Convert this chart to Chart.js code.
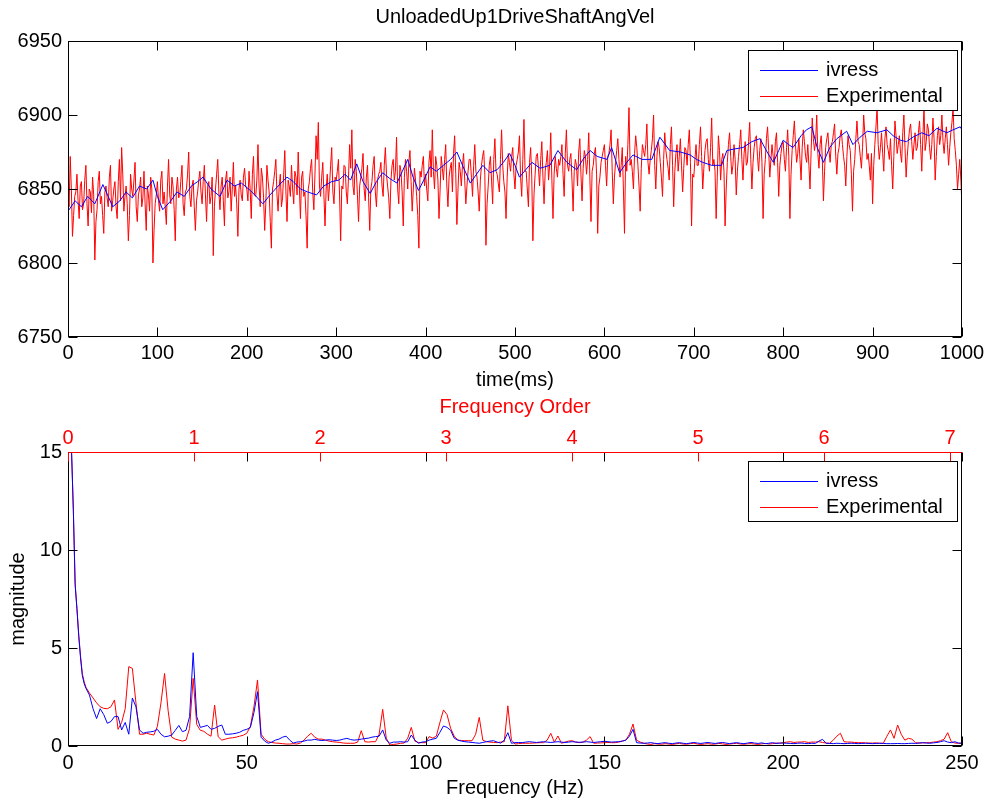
<!DOCTYPE html>
<html><head><meta charset="utf-8">
<script src="https://cdn.jsdelivr.net/npm/chart.js@4"></script>
<style>
html,body{margin:0;padding:0;background:#fff;}
#wrap{position:relative;width:990px;height:805px;background:#fff;overflow:hidden;}
canvas{position:absolute;left:0;}
#c1{top:0;}
#c2{top:395px;}
</style></head><body>
<div id="wrap"><canvas id="c1" width="990" height="395"></canvas><canvas id="c2" width="990" height="410"></canvas></div>
<script>
// ---------- DATA ----------
const chartTitle = 'UnloadedUp1DriveShaftAngVel';
const seriesNames = ['ivress', 'Experimental'];

// Top plot: ivress (time ms, value)
const ivressTimeMs = [0,8,15,22,30,39,45,50,58,65,72,80,88,95,100,106,115,122,130,138,145,151,160,170,178,186,194,204,212,218,226,235,245,252,260,268,278,286,295,303,310,316,323,330,338,345,352,360,368,374,380,386,392,398,405,412,420,428,435,442,450,457,464,472,480,487,494,500,505,512,519,528,539,548,558,569,576,584,592,603,608,617,625,632,642,653,662,673,685,696,703,710,720,731,737,745,755,765,774,782,789,795,800,806,811,820,826,832,838,845,852,860,871,878,886,894,905,916,923,931,938,945,955,963,972,983,990,998,1000];
const ivressAngVel = [6835,6842,6838,6845,6840,6853,6845,6838,6842,6848,6844,6852,6850,6856,6845,6836,6842,6848,6845,6852,6855,6858,6850,6845,6856,6852,6854,6849,6844,6840,6846,6852,6858,6855,6850,6848,6846,6852,6855,6856,6860,6856,6867,6855,6847,6855,6861,6857,6854,6862,6870,6858,6849,6856,6865,6862,6866,6870,6875,6865,6854,6860,6866,6861,6863,6868,6874,6866,6858,6863,6868,6864,6866,6876,6868,6863,6870,6876,6872,6870,6878,6861,6868,6873,6870,6870,6885,6876,6875,6873,6870,6868,6866,6866,6876,6877,6878,6882,6884,6875,6868,6876,6883,6880,6878,6886,6890,6892,6878,6868,6878,6884,6889,6880,6885,6889,6888,6890,6886,6883,6882,6885,6888,6886,6891,6888,6890,6892,6890];

// Top plot: Experimental, evenly sampled over 0..1000 ms (1.25 ms)
const experimentalAngVel = [
6850,6838,6872,6850,6818,6832,6845,6848,6860,6842,6830,6852,6855,6836,6840,6856,6866,6840,6825,6850,6848,6834,6858,6846,6802,6828,6836,6855,6862,6840,6845,6832,6820,6848,6852,6844,6838,6858,6866,6835,
6842,6850,6855,6838,6830,6855,6870,6842,6878,6860,6835,6845,6852,6840,6815,6832,6860,6850,6845,6856,6868,6838,6828,6846,6850,6858,6838,6844,6862,6840,6822,6852,6846,6835,6858,6850,6800,6822,6840,6846,
6855,6842,6835,6856,6862,6840,6848,6838,6826,6852,6870,6846,6840,6858,6852,6836,6815,6850,6858,6844,6845,6856,6866,6840,6832,6848,6850,6860,6875,6845,6838,6852,6856,6838,6822,6842,6848,6856,6862,6848,
6840,6855,6866,6846,6828,6852,6855,6840,6845,6858,6805,6838,6850,6860,6870,6848,6836,6852,6858,6842,6825,6856,6862,6844,6848,6858,6835,6850,6868,6845,6852,6840,6818,6850,6856,6846,6842,6858,6864,6852,
6850,6842,6862,6850,6830,6860,6872,6846,6845,6856,6880,6852,6838,6864,6858,6844,6822,6840,6866,6856,6848,6828,6810,6850,6855,6862,6870,6846,6835,6852,6860,6838,6844,6860,6876,6848,6828,6856,6852,6845,
6866,6850,6840,6862,6858,6846,6875,6852,6830,6858,6862,6845,6848,6832,6810,6850,6855,6864,6870,6848,6836,6860,6886,6870,6895,6852,6845,6858,6868,6846,6825,6850,6860,6842,6852,6866,6878,6848,6840,6858,
6856,6862,6870,6846,6815,6852,6850,6866,6865,6848,6840,6858,6880,6864,6890,6852,6846,6870,6862,6846,6828,6852,6858,6864,6874,6850,6842,6858,6866,6844,6822,6850,6855,6866,6872,6848,6838,6856,6860,6862,
6868,6852,6845,6866,6878,6860,6852,6844,6830,6856,6866,6870,6856,6862,6885,6850,6840,6866,6862,6848,6825,6858,6870,6862,6850,6868,6876,6855,6835,6850,6864,6856,6845,6832,6810,6862,6858,6866,6872,6852,
6860,6850,6842,6868,6876,6858,6890,6862,6850,6872,6866,6856,6830,6850,6872,6864,6856,6870,6880,6852,6838,6858,6864,6868,6848,6874,6886,6860,6826,6850,6868,6862,6852,6866,6874,6856,6840,6852,6862,6870,
6870,6858,6845,6866,6880,6862,6858,6848,6835,6856,6866,6872,6876,6860,6812,6840,6852,6866,6872,6856,6840,6870,6884,6862,6860,6854,6848,6870,6890,6866,6855,6848,6830,6858,6874,6868,6862,6872,6878,6860,
6850,6866,6870,6875,6886,6858,6845,6870,6897,6862,6862,6850,6838,6868,6878,6858,6815,6846,6860,6872,6874,6864,6852,6870,6882,6858,6840,6862,6868,6876,6856,6866,6888,6856,6830,6860,6872,6864,6858,6870,
6866,6872,6880,6860,6845,6874,6890,6866,6862,6870,6874,6856,6835,6862,6870,6866,6852,6875,6884,6860,6842,6864,6876,6872,6860,6870,6888,6858,6828,6862,6866,6874,6878,6860,6820,6852,6858,6868,6872,6876,
6880,6866,6852,6872,6874,6880,6890,6862,6840,6858,6868,6876,6884,6870,6858,6866,6878,6850,6820,6872,6862,6880,6905,6866,6870,6862,6850,6874,6886,6878,6866,6852,6835,6864,6880,6876,6872,6880,6894,6868,
6860,6870,6876,6884,6900,6866,6850,6872,6882,6878,6868,6858,6845,6870,6888,6876,6870,6864,6856,6880,6892,6866,6838,6862,6874,6880,6862,6872,6884,6866,6848,6864,6878,6876,6866,6880,6890,6868,6825,6860,
6858,6870,6880,6866,6866,6880,6892,6872,6850,6864,6876,6882,6884,6870,6862,6878,6898,6866,6870,6862,6830,6858,6886,6876,6856,6870,6874,6862,6825,6850,6868,6880,6888,6872,6860,6866,6880,6870,6846,6862,
6872,6880,6890,6870,6856,6874,6882,6866,6868,6882,6895,6870,6850,6868,6878,6884,6886,6872,6862,6876,6884,6868,6830,6860,6870,6884,6892,6876,6858,6870,6880,6872,6866,6882,6888,6868,6845,6866,6874,6880,
6882,6870,6862,6878,6890,6872,6830,6860,6876,6886,6896,6880,6868,6874,6884,6870,6856,6878,6890,6882,6872,6868,6880,6866,6850,6876,6898,6884,6876,6882,6900,6874,6864,6880,6886,6870,6842,6862,6878,6884,
6888,6876,6868,6880,6882,6888,6894,6872,6860,6874,6878,6886,6890,6880,6872,6866,6852,6872,6886,6880,6876,6860,6835,6862,6870,6884,6896,6882,6880,6872,6864,6878,6900,6888,6884,6870,6874,6866,6856,6874,
6840,6866,6880,6892,6905,6880,6870,6878,6888,6874,6862,6884,6892,6880,6876,6870,6884,6866,6850,6872,6896,6886,6874,6880,6886,6874,6868,6888,6900,6878,6858,6872,6882,6890,6894,6882,6870,6880,6888,6876,
6878,6888,6896,6880,6862,6886,6905,6876,6882,6894,6890,6878,6870,6880,6898,6884,6856,6872,6886,6892,6880,6886,6900,6882,6874,6884,6892,6880,6866,6878,6888,6895,6905,6884,6876,6866,6850,6860,6870,6856,
6838];
const timeRangeMs = [0, 1000];

// Bottom plot: spectrum
const freqStartHz = [1,1.5,2,2.5,3,3.5,4,4.5,5];
const freqHz = freqStartHz.slice();
for (let f = 6; f <= 250; f++) freqHz.push(f);

const ivressMag = [
15.0,12.0,8.2,7.0,5.6,4.5,3.6,3.2,2.95,
2.6,1.9,1.4,1.9,1.6,
1.16,1.25,1.5,1.5,0.82,1.2,0.6,2.45,2.0,0.82,
0.65,0.7,0.72,0.75,0.85,0.6,0.47,0.5,0.56,0.8,
1.05,0.73,0.8,1.5,4.76,1.5,0.95,1.0,1.05,0.85,
0.9,1.0,1.07,0.6,0.6,0.62,0.65,0.7,0.8,0.85,
0.95,1.7,2.77,0.45,0.25,0.14,0.2,0.3,0.35,0.45,
0.5,0.3,0.15,0.2,0.22,0.25,0.3,0.3,0.34,0.3,
0.28,0.3,0.32,0.3,0.28,0.3,0.35,0.39,0.33,0.3,
0.32,0.35,0.38,0.4,0.45,0.48,0.5,0.82,0.3,0.14,
0.2,0.2,0.22,0.2,0.22,0.56,0.3,0.14,0.2,0.22,
0.3,0.35,0.39,0.7,1.02,0.95,0.8,0.4,0.3,0.25,
0.22,0.2,0.18,0.16,0.14,0.18,0.22,0.25,0.27,0.2,
0.15,0.3,0.68,0.14,0.17,0.18,0.17,0.2,0.22,0.2,
0.18,0.2,0.22,0.2,0.18,0.2,0.22,0.2,0.18,0.2,
0.22,0.2,0.19,0.2,0.22,0.2,0.18,0.2,0.22,0.24,
0.22,0.2,0.21,0.22,0.25,0.3,0.5,0.85,0.17,0.15,
0.14,0.15,0.17,0.14,0.12,0.15,0.17,0.14,0.12,0.15,
0.17,0.14,0.12,0.15,0.18,0.15,0.13,0.16,0.18,0.15,
0.13,0.16,0.18,0.15,0.12,0.15,0.17,0.14,0.12,0.15,
0.18,0.15,0.13,0.16,0.12,0.14,0.17,0.13,0.15,0.15,
0.14,0.13,0.12,0.14,0.15,0.13,0.12,0.14,0.13,0.25,
0.34,0.14,0.13,0.12,0.14,0.13,0.12,0.13,0.14,0.13,
0.12,0.13,0.14,0.13,0.12,0.13,0.14,0.13,0.12,0.12,
0.12,0.13,0.12,0.12,0.13,0.14,0.13,0.15,0.17,0.15,
0.14,0.16,0.18,0.22,0.27,0.2,0.17,0.22,0.15,0.14];

const experimentalMag = [
15.0,12.0,8.3,7.0,5.7,4.6,3.7,3.3,3.0,
2.7,2.45,2.2,2.0,1.92,
1.9,2.0,2.35,0.85,1.2,1.9,4.05,3.96,2.2,0.6,
0.6,0.65,0.6,0.56,1.0,2.2,3.7,1.8,0.45,0.35,
0.3,0.25,0.3,0.9,3.45,1.1,0.8,0.75,0.6,0.5,
2.09,0.47,0.3,0.35,0.4,0.42,0.45,0.5,0.55,0.65,
1.0,2.0,3.37,0.6,0.35,0.22,0.18,0.15,0.14,0.12,
0.1,0.1,0.12,0.1,0.15,0.3,0.5,0.65,0.45,0.35,
0.35,0.3,0.25,0.22,0.2,0.18,0.15,0.14,0.14,0.14,
0.2,0.78,0.22,0.2,0.22,0.22,0.6,1.87,0.4,0.05,
0.08,0.1,0.14,0.15,0.4,0.95,0.25,0.18,0.17,0.17,
0.48,0.4,0.5,1.2,1.84,1.6,0.9,0.5,0.3,0.28,
0.27,0.27,0.27,0.6,1.46,0.3,0.22,0.2,0.18,0.17,
0.2,0.22,2.05,0.3,0.1,0.12,0.14,0.14,0.14,0.15,
0.16,0.17,0.17,0.3,0.65,0.2,0.51,0.14,0.2,0.25,
0.27,0.2,0.17,0.2,0.3,0.48,0.14,0.15,0.16,0.17,
0.18,0.17,0.17,0.2,0.25,0.3,0.6,1.12,0.3,0.2,
0.14,0.1,0.08,0.12,0.1,0.09,0.12,0.1,0.08,0.11,
0.13,0.1,0.09,0.12,0.14,0.1,0.08,0.1,0.12,0.09,
0.1,0.13,0.11,0.08,0.1,0.12,0.14,0.1,0.09,0.11,
0.12,0.1,0.08,0.11,0.13,0.1,0.12,0.15,0.14,0.17,
0.2,0.22,0.18,0.2,0.2,0.22,0.18,0.2,0.2,0.22,
0.18,0.15,0.14,0.3,0.5,0.65,0.22,0.2,0.2,0.18,
0.17,0.17,0.16,0.15,0.15,0.16,0.14,0.14,0.5,0.82,
0.39,1.07,0.6,0.3,0.39,0.35,0.17,0.15,0.16,0.17,
0.17,0.2,0.22,0.27,0.35,0.68,0.22,0.15,0.14,0.14];

// axes / ticks
const angVelRange = [6750, 6950], angVelStep = 50, timeStepMs = 100;
const freqRange = [0, 250], freqStep = 50, magRange = [0, 15], magStep = 5;
const hzPerOrder = 35.24;          // frequency order axis (top of lower plot)
const orderStep = 1;

// ---------- STYLE ----------
const FONT = {family: '"Liberation Sans", Arial, Helvetica, sans-serif', size: 20};
const BLUE = '#0000ff', RED = '#ff0000', BLACK = '#000000';
const seriesColors = [BLUE, RED];

function pairs(xs, ys) { return ys.map((y, i) => ({x: xs[i], y})); }
const expTimes = experimentalAngVel.map((_, i) => timeRangeMs[0] + i * (timeRangeMs[1] - timeRangeMs[0]) / (experimentalAngVel.length - 1));

const matlabAxes = {
  id: 'matlabAxes',
  afterDatasetsDraw(chart, args, opts) {
    const {ctx, chartArea: a} = chart;
    const L = 9;
    ctx.save();
    ctx.lineWidth = 1;
    const l = Math.round(a.left) + 0.5, r = Math.round(a.right) - 0.5;
    const t = Math.round(a.top) + 0.5, b = Math.round(a.bottom) - 0.5;
    ctx.strokeStyle = BLACK;
    ctx.strokeRect(l, t, r - l, b - t);
    (opts.marks || []).forEach(m => {
      const s = chart.scales[m.scale];
      ctx.strokeStyle = m.color || BLACK;
      ctx.beginPath();
      s.ticks.forEach(tk => {
        const p = Math.round(s.getPixelForValue(tk.value)) + 0.5;
        m.edges.forEach(e => {
          if (e === 'bottom') { ctx.moveTo(p, b); ctx.lineTo(p, b - L); }
          if (e === 'top') { ctx.moveTo(p, t); ctx.lineTo(p, t + L); }
          if (e === 'left') { ctx.moveTo(l, p); ctx.lineTo(l + L, p); }
          if (e === 'right') { ctx.moveTo(r, p); ctx.lineTo(r - L, p); }
        });
      });
      ctx.stroke();
    });
    if (opts.topColor) {
      ctx.strokeStyle = opts.topColor;
      ctx.beginPath(); ctx.moveTo(l, t); ctx.lineTo(r, t); ctx.stroke();
    }
    ctx.restore();
  },
  afterDraw(chart) {
    const {ctx, chartArea: a} = chart;
    const w = 209, h = 60;
    const bx = Math.round(a.right) - 214, by = Math.round(a.top) + 9;
    ctx.save();
    ctx.fillStyle = '#ffffff';
    ctx.fillRect(bx, by, w, h);
    ctx.strokeStyle = BLACK; ctx.lineWidth = 1;
    ctx.strokeRect(bx + 0.5, by + 0.5, w, h);
    chart.data.datasets.forEach((ds, i) => {
      const y = by + 20 + i * 26;
      ctx.fillStyle = seriesColors[i];
      ctx.fillRect(bx + 12, y, 58, 1);
      ctx.fillStyle = BLACK;
      ctx.font = FONT.size + 'px ' + FONT.family;
      ctx.textBaseline = 'middle'; ctx.textAlign = 'left';
      ctx.fillText(ds.label, bx + 78, y);
    });
    ctx.restore();
  }
};

const noGrid = {display: false, drawTicks: false};
const noBorder = {display: false};
const plain = v => String(v);

// ---------- TOP CHART ----------
new Chart(document.getElementById('c1'), {
  type: 'line',
  data: {
    datasets: [
      {label: seriesNames[0], data: pairs(ivressTimeMs, ivressAngVel), borderColor: seriesColors[0], borderWidth: 1, pointRadius: 0, tension: 0},
      {label: seriesNames[1], data: pairs(expTimes, experimentalAngVel), borderColor: seriesColors[1], borderWidth: 1, pointRadius: 0, tension: 0}
    ]
  },
  options: {
    responsive: false, animation: false, devicePixelRatio: 1,
    layout: {padding: {left: 0, right: 28, top: 0, bottom: 0}},
    plugins: {legend: {display: false}, tooltip: {enabled: false}, decimation: {enabled: false},
      matlabAxes: {marks: [{scale: 'x', edges: ['bottom', 'top']}, {scale: 'y', edges: ['left', 'right']}]}},
    scales: {
      x: {type: 'linear', position: 'bottom', min: timeRangeMs[0], max: timeRangeMs[1],
        ticks: {stepSize: timeStepMs, color: BLACK, font: FONT, padding: 4, maxRotation: 0, autoSkip: false, callback: plain},
        grid: noGrid, border: noBorder,
        title: {display: true, text: 'time(ms)', color: BLACK, font: FONT, padding: {top: 0, bottom: 3}},
        afterFit(s) { s.height = 58; }},
      xTop: {type: 'linear', position: 'top', display: true, min: timeRangeMs[0], max: timeRangeMs[1],
        ticks: {display: false}, grid: noGrid, border: noBorder,
        title: {display: true, text: chartTitle, color: BLACK, font: FONT, padding: {top: 5, bottom: 0}},
        afterFit(s) { s.height = 41; }},
      y: {type: 'linear', position: 'left', min: angVelRange[0], max: angVelRange[1],
        ticks: {stepSize: angVelStep, color: BLACK, font: FONT, padding: 6, callback: plain},
        grid: noGrid, border: noBorder,
        afterFit(s) { s.width = 68; }}
    }
  },
  plugins: [matlabAxes]
});

// ---------- BOTTOM CHART ----------
new Chart(document.getElementById('c2'), {
  type: 'line',
  data: {
    datasets: [
      {label: seriesNames[0], data: pairs(freqHz, ivressMag), borderColor: seriesColors[0], borderWidth: 1, pointRadius: 0, tension: 0},
      {label: seriesNames[1], data: pairs(freqHz, experimentalMag), borderColor: seriesColors[1], borderWidth: 1, pointRadius: 0, tension: 0}
    ]
  },
  options: {
    responsive: false, animation: false, devicePixelRatio: 1,
    layout: {padding: {left: 0, right: 28, top: 0, bottom: 0}},
    plugins: {legend: {display: false}, tooltip: {enabled: false},
      matlabAxes: {topColor: RED, marks: [
        {scale: 'x', edges: ['bottom', 'top']},
        {scale: 'y', edges: ['left', 'right']},
        {scale: 'order', edges: ['top'], color: RED}]}},
    scales: {
      x: {type: 'linear', position: 'bottom', min: freqRange[0], max: freqRange[1],
        ticks: {stepSize: freqStep, color: BLACK, font: FONT, padding: 5, maxRotation: 0, autoSkip: false, callback: plain},
        grid: noGrid, border: noBorder,
        title: {display: true, text: 'Frequency (Hz)', color: BLACK, font: FONT, padding: {top: 0, bottom: 5}},
        afterFit(s) { s.height = 59; }},
      order: {type: 'linear', position: 'top', display: true, min: 0, max: freqRange[1] / hzPerOrder,
        ticks: {stepSize: orderStep, includeBounds: false, color: RED, font: FONT, padding: 2, maxRotation: 0, autoSkip: false, callback: plain},
        grid: noGrid, border: noBorder,
        title: {display: true, text: 'Frequency Order', color: RED, font: FONT, padding: {top: 0, bottom: 0}},
        afterFit(s) { s.height = 57; }},
      y: {type: 'linear', position: 'left', min: magRange[0], max: magRange[1],
        ticks: {stepSize: magStep, color: BLACK, font: FONT, padding: 6, callback: plain},
        grid: noGrid, border: noBorder,
        title: {display: true, text: 'magnitude', color: BLACK, font: FONT, padding: {top: 6, bottom: 0}},
        afterFit(s) { s.width = 68; }}
    }
  },
  plugins: [matlabAxes]
});
</script>
</body></html>
